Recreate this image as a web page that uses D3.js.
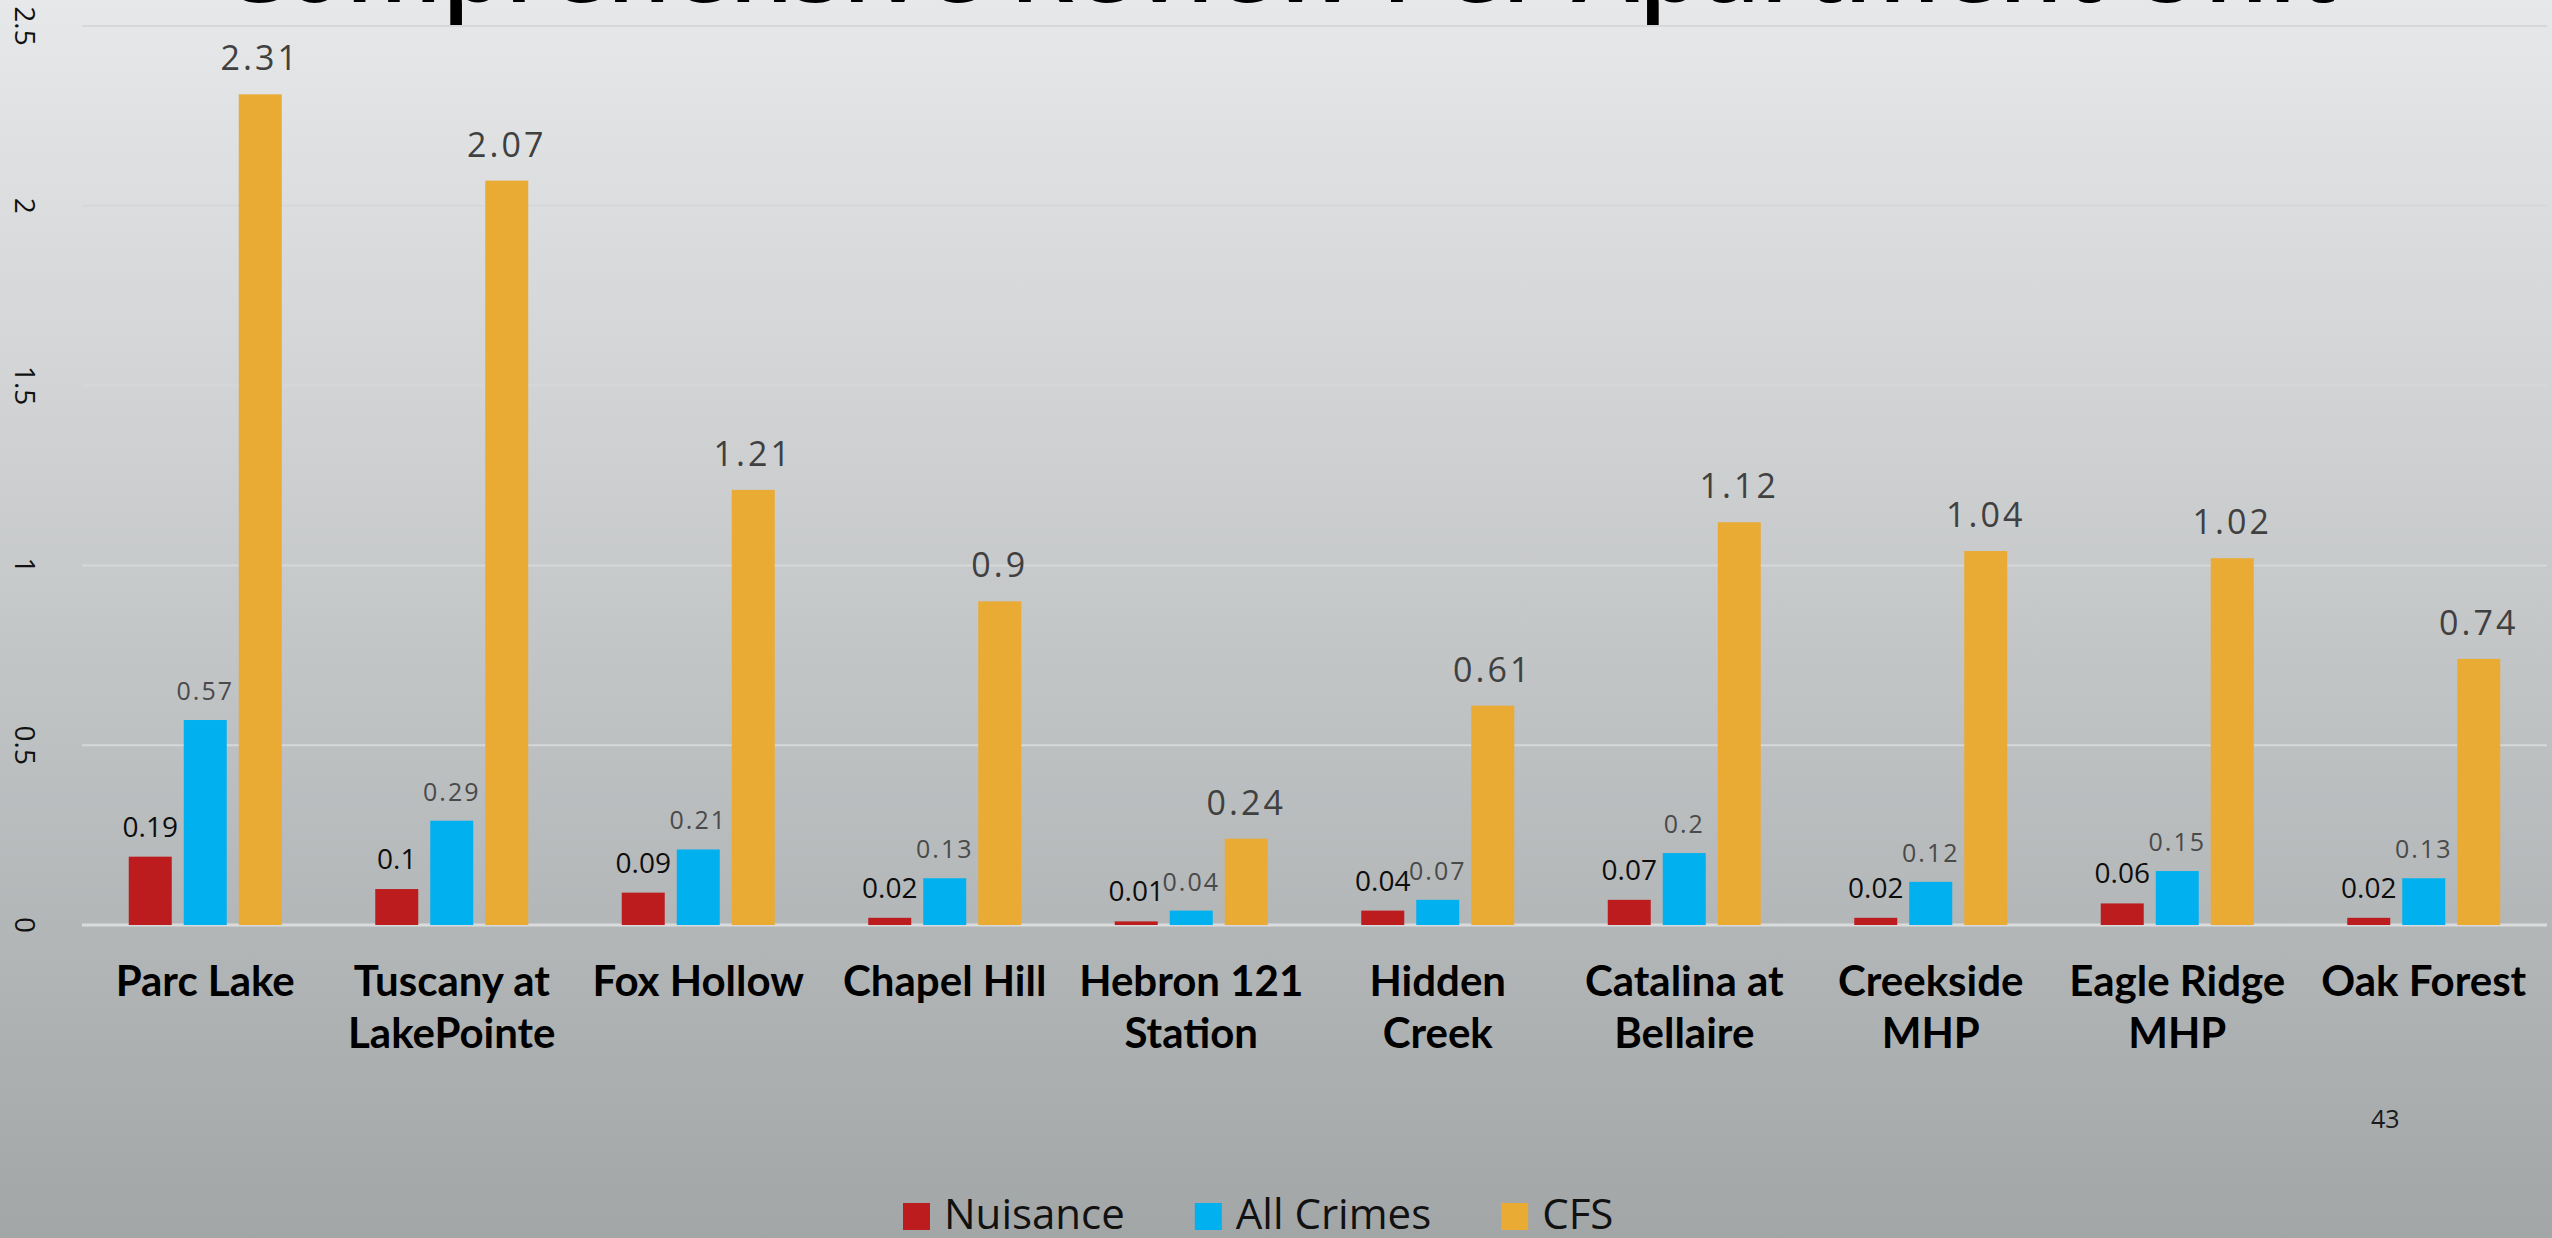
<!DOCTYPE html>
<html>
<head>
<meta charset="utf-8">
<script src="https://cdn.jsdelivr.net/npm/d3@7"></script>
<style>
html,body{margin:0;padding:0;overflow:hidden;background:#c8cacb;}
svg{display:block;}
</style>
</head>
<body>
<svg id="chart" width="2552" height="1238"></svg>
<script>
// ---- data ----
const titleText = "Comprehensive Review Per Apartment Unit";
const categories = ["Parc Lake", "Tuscany at\nLakePointe", "Fox Hollow", "Chapel Hill", "Hebron 121\nStation",
  "Hidden\nCreek", "Catalina at\nBellaire", "Creekside\nMHP", "Eagle Ridge\nMHP", "Oak Forest"];
const seriesNames = ["Nuisance", "All Crimes", "CFS"];
const nuisance  = [0.19, 0.1, 0.09, 0.02, 0.01, 0.04, 0.07, 0.02, 0.06, 0.02];
const allCrimes = [0.57, 0.29, 0.21, 0.13, 0.04, 0.07, 0.2, 0.12, 0.15, 0.13];
const cfs       = [2.31, 2.07, 1.21, 0.9, 0.24, 0.61, 1.12, 1.04, 1.02, 0.74];
const yTicks = [0, 0.5, 1, 1.5, 2, 2.5];
const yTickLabels = ["0", "0.5", "1", "1.5", "2", "2.5"];
const pageNumber = "43";

const seriesValues = [nuisance, allCrimes, cfs];
const colors = ["#bd1c1f", "#00b0ef", "#eaab35"];
const labelStyle = [
  {size: 28, fill: "#0d0d0d", spacing: 0, gap: 20},
  {size: 25, fill: "#4a4a4a", spacing: 2, gap: 20},
  {size: 34, fill: "#404040", spacing: 3, gap: 24}
];

const W = 2552, H = 1238;
const svg = d3.select("#chart");

// background gradient
const defs = svg.append("defs");
const grad = defs.append("linearGradient").attr("id", "bg").attr("x1", 0).attr("y1", 0).attr("x2", 0).attr("y2", 1);
grad.append("stop").attr("offset", "0%").attr("stop-color", "#e7e8ea");
grad.append("stop").attr("offset", "100%").attr("stop-color", "#a2a6a7");
svg.append("rect").attr("width", W).attr("height", H).attr("fill", "url(#bg)");

// scales
const x0 = d3.scaleBand().domain(categories).range([82, 2547]).padding(0);
const x1 = d3.scaleBand().domain(seriesNames).range([0, x0.bandwidth()]).paddingInner(12 / 55).paddingOuter(0.85);
const y = d3.scaleLinear().domain([0, 2.5]).range([925, 26]);

// title (cut off at top)
const title = svg.append("text")
  .attr("font-family", "'Open Sans', sans-serif")
  .attr("font-weight", 600)
  .attr("font-size", 100)
  .attr("fill", "#000")
  .text(titleText);
{
  const w = title.node().getSubStringLength(3, 23);
  const fs = 100 * 1197 / w;
  title.attr("font-size", fs);
  const pre = title.node().getSubStringLength(0, 3);
  title.attr("x", 449 - pre - 0.07 * fs).attr("y", 2);
}

// gridlines
const grid = svg.append("g");
grid.selectAll("line").data(yTicks).join("line")
  .attr("x1", 82).attr("x2", 2547)
  .attr("y1", d => y(d)).attr("y2", d => y(d))
  .attr("stroke", d => d === 0 ? "#dadbdc" : "#d6d7d9")
  .attr("stroke-width", d => d === 0 ? 3 : 2);

// y tick labels (rotated)
const yl = svg.append("g");
yl.selectAll("text").data(yTicks).join("text")
  .attr("transform", d => `translate(25,${y(d)}) rotate(90)`)
  .attr("text-anchor", "middle")
  .attr("dy", "0.35em")
  .attr("font-family", "'Open Sans', sans-serif")
  .attr("font-size", 28)
  .attr("fill", "#111")
  .text((d, i) => yTickLabels[i]);

// bars
const groups = svg.append("g").selectAll("g").data(categories).join("g")
  .attr("transform", d => `translate(${x0(d)},0)`);
groups.selectAll("rect").data((d, i) => seriesNames.map((s, k) => ({s, k, v: seriesValues[k][i]}))).join("rect")
  .attr("x", d => x1(d.s)).attr("width", x1.bandwidth())
  .attr("y", d => y(d.v)).attr("height", d => y(0) - y(d.v))
  .attr("fill", d => colors[d.k]);
groups.selectAll("text.val").data((d, i) => seriesNames.map((s, k) => ({s, k, v: seriesValues[k][i]}))).join("text")
  .attr("class", "val")
  .attr("x", d => x1(d.s) + x1.bandwidth() / 2)
  .attr("y", d => y(d.v) - labelStyle[d.k].gap)
  .attr("text-anchor", "middle")
  .attr("font-family", "'Open Sans', sans-serif")
  .attr("font-size", d => labelStyle[d.k].size)
  .attr("letter-spacing", d => labelStyle[d.k].spacing)
  .attr("fill", d => labelStyle[d.k].fill)
  .text(d => String(d.v));

// category labels
const cat = svg.append("g");
categories.forEach(c => {
  const t = cat.append("text")
    .attr("text-anchor", "middle")
    .attr("font-family", "Lato, sans-serif")
    .attr("font-weight", 700)
    .attr("font-size", 42)
    .attr("fill", "#000");
  c.split("\n").forEach((line, i) => {
    t.append("tspan").attr("x", x0(c) + x0.bandwidth() / 2).attr("y", 996 + i * 52).text(line);
  });
});

// page number
svg.append("text").attr("x", 2371).attr("y", 1128)
  .attr("font-family", "'Open Sans', sans-serif").attr("font-size", 25).attr("fill", "#1a1a1a")
  .text(pageNumber);

// legend
const legend = svg.append("g");
let lx = 903;
seriesNames.forEach((s, k) => {
  legend.append("rect").attr("x", lx).attr("y", 1203).attr("width", 27).attr("height", 27).attr("fill", colors[k]);
  const t = legend.append("text").attr("x", lx + 41).attr("y", 1229)
    .attr("font-family", "'Open Sans', sans-serif").attr("font-size", 42).attr("fill", "#111")
    .text(s);
  lx += 41 + t.node().getComputedTextLength() + 70;
});
</script>
</body>
</html>
